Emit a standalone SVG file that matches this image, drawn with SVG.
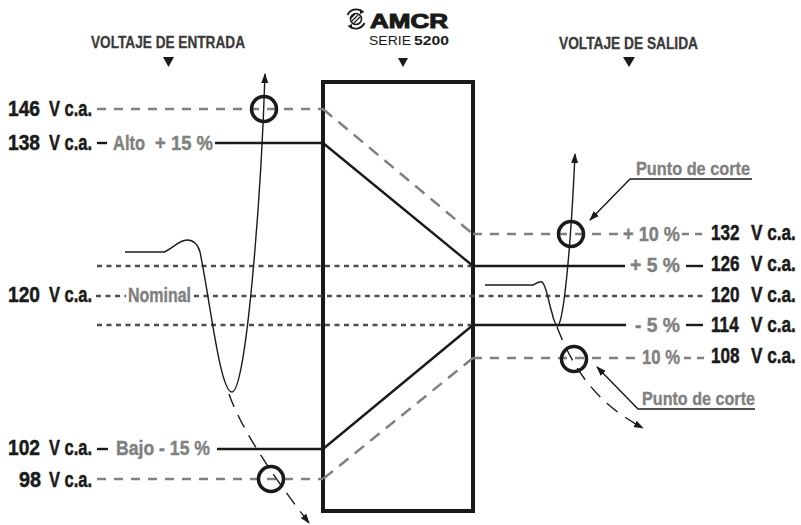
<svg xmlns="http://www.w3.org/2000/svg" width="801" height="525" viewBox="0 0 801 525">
<style>
.lbl{font-family:"Liberation Sans",Arial,sans-serif;font-weight:bold;font-size:22px;fill:#1a1a1a;stroke:#1a1a1a;stroke-width:0.5}
.gry{font-family:"Liberation Sans",Arial,sans-serif;font-weight:bold;font-size:20px;fill:#808080;stroke:#808080;stroke-width:0.4}
.hdr{font-family:"Liberation Sans",Arial,sans-serif;font-weight:bold;font-size:16.5px;fill:#3a3a3a;stroke:#3a3a3a;stroke-width:0.3}
.pc{font-family:"Liberation Sans",Arial,sans-serif;font-weight:bold;font-size:17.5px;fill:#808080;stroke:#808080;stroke-width:0.3}
.gd{stroke:#808080;stroke-width:2.5;fill:none;stroke-dasharray:9 8}
.gdd{stroke:#808080;stroke-width:2.5;fill:none;stroke-dasharray:12 8}
.dt{stroke:#4d4d4d;stroke-width:2.3;fill:none;stroke-dasharray:5 4.5}
.sl{stroke:#1a1a1a;stroke-width:2.4;fill:none}
.wave{stroke:#1a1a1a;stroke-width:1.4;fill:none}
.wd{stroke:#1a1a1a;stroke-width:1.4;fill:none;stroke-dasharray:14 9}
.cir{stroke:#1a1a1a;stroke-width:3.5;fill:none}
.tri{fill:#1a1a1a}
</style>
<defs>
<marker id="ah" viewBox="0 0 10 10" refX="9" refY="5" markerWidth="10" markerHeight="10" markerUnits="userSpaceOnUse" orient="auto"><path d="M0,1.5 L10,5 L0,8.5 z" fill="#1a1a1a"/></marker>
</defs>

<g id="header-entrada">
<text class="hdr" x="91" y="48" textLength="154" lengthAdjust="spacingAndGlyphs">VOLTAJE DE ENTRADA</text>
<path class="tri" d="M163,57 L174,57 L168.5,67 z"/>
</g>
<g id="header-salida">
<text class="hdr" x="559" y="49" textLength="139" lengthAdjust="spacingAndGlyphs">VOLTAJE DE SALIDA</text>
<path class="tri" d="M623,57 L635,57 L629,67 z"/>
</g>
<g id="logo">
<g fill="none" stroke="#1a1a1a">
<path d="M347.5,15 A9.5,9.5 0 0 1 362,11.5" stroke-width="1.8"/>
<path d="M364.5,23 A9.5,9.5 0 0 1 350,26.5" stroke-width="1.8"/>
<circle cx="356" cy="19" r="5.5" stroke-width="1.6"/>
<path d="M352,21 L358,15 M354,23 L360,17 M351,18 L355,14" stroke-width="1.2"/>
</g>
<path d="M360,9 L364.5,12 L360,14 z M352,29 L347.5,26 L352,24 z" fill="#1a1a1a"/>
<text x="370" y="28" font-family="Liberation Sans,Arial,sans-serif" font-weight="bold" font-size="21" fill="#1a1a1a" stroke="#1a1a1a" stroke-width="1.1" textLength="78" lengthAdjust="spacingAndGlyphs">AMCR</text>
<text x="369" y="45" font-family="Liberation Sans,Arial,sans-serif" font-size="13.5" fill="#1a1a1a"><tspan textLength="42" lengthAdjust="spacingAndGlyphs">SERIE</tspan><tspan x="414" font-weight="bold" textLength="35" lengthAdjust="spacingAndGlyphs">5200</tspan></text>
<path class="tri" d="M398,58 L408,58 L403,67 z"/>
</g>

<g id="regulator">
<rect x="323" y="82" width="150" height="429" fill="none" stroke="#1a1a1a" stroke-width="4"/>
</g>

<g id="connectors">
<line class="gd" x1="97" y1="109" x2="323" y2="109"/>
<line class="sl" x1="97" y1="143" x2="107" y2="143"/>
<line class="sl" x1="215" y1="143" x2="323" y2="143"/>
<line class="dt" x1="97" y1="266" x2="473" y2="266"/>
<line class="dt" x1="96" y1="296" x2="126" y2="296"/>
<line class="dt" x1="194" y1="296" x2="703" y2="296"/>
<line class="dt" x1="97" y1="325" x2="473" y2="325"/>
<line class="sl" x1="97" y1="449" x2="108" y2="449"/>
<line class="sl" x1="217" y1="449" x2="323" y2="449"/>
<line class="gd" x1="97" y1="479" x2="323" y2="479"/>
<line class="sl" x1="323" y1="143" x2="473" y2="266"/>
<line class="sl" x1="473" y1="325" x2="323" y2="449"/>
<line class="gdd" x1="323" y1="109" x2="473" y2="234"/>
<line class="gdd" x1="473" y1="358" x2="323" y2="479"/>
<line class="gd" x1="473" y1="234" x2="620" y2="234"/>
<line class="gd" x1="682" y1="234" x2="705" y2="234" style="stroke-dasharray:7 6"/>
<line class="sl" x1="473" y1="266" x2="625" y2="266"/>
<line class="sl" x1="686" y1="266" x2="703" y2="266"/>
<line class="sl" x1="473" y1="325" x2="626" y2="325"/>
<line class="sl" x1="686" y1="325" x2="703" y2="325"/>
<line class="gd" x1="473" y1="358" x2="636" y2="358"/>
<line class="gd" x1="684" y1="358" x2="706" y2="358" style="stroke-dasharray:7 6"/>
<path class="wave" d="M125,252 L164,252 C172,249 179,240 187,240 C194,240 198,245 200,252 C210,300 220,392 232,392 C246,392 261,200 265,74" marker-end="url(#ah)"/>
<path class="wd" d="M229,394 Q245,440 309,523" marker-end="url(#ah)"/>
<path class="wave" d="M485,285 L533,285 C537,283 539,281 542,282 C546,284 548,300 552,313 Q555,326 558,326 Q561,322 564,300 C568,270 572,220 575,154" marker-end="url(#ah)"/>
<path class="wd" d="M557,327 C570,360 590,400 643,428" marker-end="url(#ah)"/>
<path class="wave" d="M752,179 L630,179 L590,220" marker-end="url(#ah)"/>
<path class="wave" d="M755,409 L638,409 L597,367" marker-end="url(#ah)"/>
</g>

<g id="cut-circles">
<circle class="cir" cx="264" cy="109" r="12.5"/>
<circle class="cir" cx="271" cy="479" r="12.5"/>
<circle class="cir" cx="571" cy="234" r="12.5"/>
<circle class="cir" cx="574" cy="359" r="12.5"/>
</g>

<g id="input-labels">
<text class="lbl" y="116"><tspan x="8" textLength="32" lengthAdjust="spacingAndGlyphs">146</tspan><tspan x="49" textLength="43" lengthAdjust="spacingAndGlyphs">V c.a.</tspan></text>
<text class="lbl" y="150"><tspan x="8" textLength="32" lengthAdjust="spacingAndGlyphs">138</tspan><tspan x="49" textLength="43" lengthAdjust="spacingAndGlyphs">V c.a.</tspan></text>
<text class="gry" y="150"><tspan x="113" textLength="32" lengthAdjust="spacingAndGlyphs">Alto</tspan><tspan x="155" textLength="58" lengthAdjust="spacingAndGlyphs">+ 15 %</tspan></text>
<text class="lbl" y="302"><tspan x="8" textLength="32" lengthAdjust="spacingAndGlyphs">120</tspan><tspan x="49" textLength="43" lengthAdjust="spacingAndGlyphs">V c.a.</tspan></text>
<text class="gry" x="128" y="302" textLength="63" lengthAdjust="spacingAndGlyphs">Nominal</text>
<text class="lbl" y="455"><tspan x="8" textLength="32" lengthAdjust="spacingAndGlyphs">102</tspan><tspan x="49" textLength="43" lengthAdjust="spacingAndGlyphs">V c.a.</tspan></text>
<text class="gry" x="116" y="455" textLength="94" lengthAdjust="spacingAndGlyphs">Bajo - 15 %</text>
<text class="lbl" y="487"><tspan x="19" textLength="22" lengthAdjust="spacingAndGlyphs">98</tspan><tspan x="49" textLength="43" lengthAdjust="spacingAndGlyphs">V c.a.</tspan></text>
</g>

<g id="output-labels">
<text class="gry" x="623" y="241" textLength="57" lengthAdjust="spacingAndGlyphs">+ 10 %</text>
<text class="lbl" transform="translate(711,240) scale(0.78,1)"><tspan x="0">132</tspan><tspan x="51.3">V c.a.</tspan></text>
<text class="gry" x="630" y="272" textLength="50" lengthAdjust="spacingAndGlyphs">+ 5 %</text>
<text class="lbl" transform="translate(711,271) scale(0.78,1)"><tspan x="0">126</tspan><tspan x="51.3">V c.a.</tspan></text>
<text class="lbl" transform="translate(711,302) scale(0.78,1)"><tspan x="0">120</tspan><tspan x="51.3">V c.a.</tspan></text>
<text class="gry" x="635" y="332" textLength="45" lengthAdjust="spacingAndGlyphs">- 5 %</text>
<text class="lbl" transform="translate(711,332) scale(0.78,1)"><tspan x="0">114</tspan><tspan x="51.3">V c.a.</tspan></text>
<text class="gry" x="642" y="364" textLength="38" lengthAdjust="spacingAndGlyphs">10 %</text>
<text class="lbl" transform="translate(711,363) scale(0.78,1)"><tspan x="0">108</tspan><tspan x="51.3">V c.a.</tspan></text>
<text class="pc" x="636" y="175" textLength="114" lengthAdjust="spacingAndGlyphs">Punto de corte</text>
<text class="pc" x="642" y="405" textLength="113" lengthAdjust="spacingAndGlyphs">Punto de corte</text>
</g>
</svg>
